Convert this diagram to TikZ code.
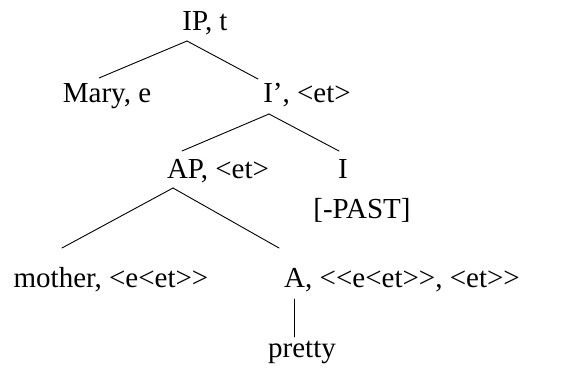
\documentclass[tikz,border=0pt]{standalone}
\usepackage{fontspec}
\setmainfont{Liberation Serif}[Ligatures=TeXOff]
\usetikzlibrary{calc}
\begin{document}
\begin{tikzpicture}[x=1pt,y=-1pt,
  lbl/.style={anchor=base,inner sep=0pt,font=\fontsize{29}{34}\selectfont},
  edge/.style={line width=0.9pt,line cap=round}]
\useasboundingbox (0,0) rectangle (566,370);
\node[lbl] (IP) at (205,30) {IP, t};
\node[lbl] (Mary) at (107,102) {Mary, e};
\node[lbl] (Ibar) at (307,102) {I’, <et>};
\node[lbl] (AP) at (218,178) {AP, <et>};
\node[lbl] (I) at (343,178) {I};
\node[lbl] (past) at (362,218) {[-PAST]};
\node[lbl] (mother) at (111,287) {mother, <e<et>>};
\node[lbl] (A) at (402,287) {A, <<e<et>>, <et>>};
\node[lbl] (pretty) at (302,357) {pretty};
\draw[edge] ($(IP.base)+(-18,11)$) -- ($(Mary.base)+(-8,-24)$);
\draw[edge] ($(IP.base)+(-18,11)$) -- ($(Ibar.base)+(-49,-23)$);
\draw[edge] ($(Ibar.base)+(-38,12)$) -- ($(AP.base)+(-36,-27)$);
\draw[edge] ($(Ibar.base)+(-38,12)$) -- ($(I.base)+(-4,-27)$);
\draw[edge] ($(AP.base)+(-45,10)$) -- ($(mother.base)+(-49,-39)$);
\draw[edge] ($(AP.base)+(-45,10)$) -- ($(A.base)+(-123,-39)$);
\draw[edge] ($(A.base)+(-108,12)$) -- ($(pretty.base)+(-8,-20)$);
\end{tikzpicture}
\end{document}
